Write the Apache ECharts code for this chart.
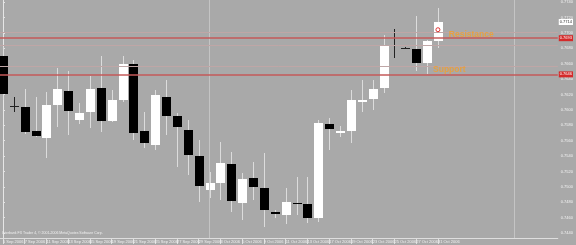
<!DOCTYPE html>
<html><head><meta charset="utf-8">
<script src="https://cdn.jsdelivr.net/npm/echarts@6/dist/echarts.min.js"></script>
<style>html,body{margin:0;padding:0;background:#a9a9a9}#c{width:576px;height:245px}</style>
</head><body><div id="c"></div>
<script>
const dates = ['5 Sep 2006','6 Sep 2006','7 Sep 2006','8 Sep 2006','11 Sep 2006','12 Sep 2006','13 Sep 2006','14 Sep 2006','15 Sep 2006','18 Sep 2006','19 Sep 2006','20 Sep 2006','21 Sep 2006','22 Sep 2006','25 Sep 2006','26 Sep 2006','27 Sep 2006','28 Sep 2006','29 Sep 2006','2 Oct 2006','3 Oct 2006','4 Oct 2006','5 Oct 2006','6 Oct 2006','9 Oct 2006','10 Oct 2006','11 Oct 2006','12 Oct 2006','13 Oct 2006','16 Oct 2006','17 Oct 2006','18 Oct 2006','19 Oct 2006','20 Oct 2006','23 Oct 2006','24 Oct 2006','25 Oct 2006','26 Oct 2006','27 Oct 2006','30 Oct 2006','31 Oct 2006'];
const open  = [0.7670,0.7605,0.7604,0.7572,0.7563,0.7606,0.7624,0.7587,0.7597,0.7628,0.7586,0.7613,0.7660,0.7572,0.7554,0.7617,0.7592,0.7574,0.7540,0.7496,0.7505,0.7530,0.7479,0.7511,0.7498,0.7467,0.7463,0.7479,0.7478,0.7460,0.7582,0.7570,0.7572,0.7610,0.7614,0.7628,0.7684,0.7680,0.7679,0.7661,0.7689];
const close = [0.7620,0.7605,0.7571,0.7566,0.7606,0.7627,0.7598,0.7596,0.7627,0.7586,0.7613,0.7660,0.7570,0.7557,0.7619,0.7592,0.7578,0.7541,0.7501,0.7505,0.7531,0.7482,0.7510,0.7500,0.7470,0.7465,0.7480,0.7478,0.7460,0.7583,0.7575,0.7572,0.7613,0.7613,0.7627,0.7684,0.7684,0.7680,0.7661,0.7689,0.7714];
const low   = [0.7613,0.7597,0.7569,0.7565,0.7537,0.7578,0.7567,0.7582,0.7576,0.7571,0.7584,0.7610,0.7561,0.7550,0.7548,0.7567,0.7526,0.7515,0.7480,0.7485,0.7483,0.7467,0.7457,0.7483,0.7448,0.7460,0.7452,0.7463,0.7453,0.7454,0.7548,0.7565,0.7557,0.7597,0.7600,0.7622,0.7667,0.7679,0.7650,0.7646,0.7680];
const high  = [0.7682,0.7617,0.7627,0.7617,0.7623,0.7654,0.7650,0.7609,0.7644,0.7670,0.7626,0.7670,0.7665,0.7597,0.7626,0.7639,0.7596,0.7587,0.7561,0.7519,0.7558,0.7545,0.7518,0.7532,0.7544,0.7470,0.7498,0.7513,0.7513,0.7587,0.7589,0.7579,0.7626,0.7639,0.7639,0.7697,0.7705,0.7682,0.7722,0.7691,0.7732];
const priceTicks = ['0.7740','0.7720','0.7700','0.7680','0.7660','0.7640','0.7620','0.7600','0.7580','0.7560','0.7540','0.7520','0.7500','0.7480','0.7460','0.7440'];
const dateTickIdx = [0,2,4,6,8,10,12,14,16,18,20,22,24,26,28,30,32,34,36,38,40];
const resistance = 0.7693;
const support = 0.7646;
const guideLevels = [0.7701, 0.7684, 0.7656];
const separators = [19, 47];
const noteTexts = ['Resistance', 'Support'];
const noteAt = [[41.0, 0.7697], [39.55, 0.7652]];
const arrowAt = [40, 0.7704];
const copyright = 'Interbank FX Trader 4, \u00a9 2001-2006 MetaQuotes Software Corp.';

const chart = echarts.init(document.getElementById('c'), null, {renderer: 'canvas'});

function renderItem(params, api) {
  const i = api.value(0), o = api.value(1), c = api.value(2), l = api.value(3), h = api.value(4);
  const pH = api.coord([i, h]), pL = api.coord([i, l]), pO = api.coord([i, o]), pC = api.coord([i, c]);
  const cx = Math.round(pO[0]) + 0.5;
  const hw = 4;
  const doji = o === c;
  const children = [];
  children.push({type: 'line', shape: {x1: cx, y1: Math.round(pH[1]), x2: cx, y2: Math.round(pL[1])},
    style: {stroke: doji ? '#222222' : '#dcdcdc', lineWidth: 1}});
  if (doji) {
    const y = Math.round(pO[1]) + 0.5;
    children.push({type: 'line', shape: {x1: cx - hw - 0.5, y1: y, x2: cx + hw + 0.5, y2: y}, style: {stroke: '#222222', lineWidth: 1}});
  } else {
    const top = Math.round(Math.min(pO[1], pC[1])), bot = Math.round(Math.max(pO[1], pC[1]));
    children.push({type: 'rect', shape: {x: cx - 0.5 - hw, y: top, width: 2 * hw + 1, height: Math.max(1, bot - top)},
      style: {fill: c > o ? '#ffffff' : '#000000'}});
  }
  return {type: 'group', children};
}

const ticksNum = priceTicks.map(Number);
const lineLabel = (bg, fg) => ({show: true, position: 'end', formatter: p => Number(p.value).toFixed(4),
  backgroundColor: bg, color: fg, fontSize: 4, padding: [1, 1, 1, 1], distance: 1, fontFamily: 'Liberation Sans'});

const option = {
  backgroundColor: '#a9a9a9',
  animation: false,
  title: {text: copyright, left: 2, top: 231, padding: 0,
    textStyle: {fontSize: 3.5, color: '#efefef', fontWeight: 'normal', fontFamily: 'Liberation Sans'}},
  grid: {left: 0, right: 13, top: 0, bottom: 7, containLabel: false},
  xAxis: {
    type: 'value', min: -0.273, max: 51.02,
    axisLine: {show: true, onZero: false, lineStyle: {color: '#dedede', width: 1}},
    axisTick: {show: true, customValues: dateTickIdx, length: 6, lineStyle: {color: '#dedede'}},
    axisLabel: {show: true, customValues: dateTickIdx, formatter: v => dates[Math.round(v)] || '',
      align: 'left', fontSize: 4, color: '#f0f0f0', margin: 2, fontFamily: 'Liberation Sans'},
    splitLine: {show: false}
  },
  yAxis: {
    type: 'value', position: 'right', min: 0.743351, max: 0.774260,
    axisLine: {show: true, lineStyle: {color: '#e6e6e6', width: 1}},
    axisTick: {show: true, customValues: ticksNum, length: 2, lineStyle: {color: '#e6e6e6'}},
    axisLabel: {show: true, customValues: ticksNum, formatter: v => Number(v).toFixed(4),
      fontSize: 4, color: '#f2f2f2', margin: 3, fontFamily: 'Liberation Sans'},
    splitLine: {show: false}
  },
  series: [{
    type: 'custom',
    renderItem,
    encode: {x: 0, y: [1, 2, 3, 4]},
    data: dates.map((d, i) => [i, open[i], close[i], low[i], high[i]]),
    clip: true,
    z: 3
  }, {
    type: 'line',
    data: [],
    z: 4,
    markLine: {
      silent: true, symbol: 'none', animation: false, precision: 4,
      data: [
        ...separators.map(s => ({xAxis: s, lineStyle: {color: '#c4c4c4', width: 1, type: 'solid'}, label: {show: false}})),
        ...guideLevels.map(g => ({yAxis: g, lineStyle: {color: '#bfa6a6', width: 1, type: 'solid'}, label: {show: false}})),
        {yAxis: resistance, lineStyle: {color: '#c45a5a', width: 1.6, type: 'solid'}, label: lineLabel('#d42a2a', '#ffffff')},
        {yAxis: support, lineStyle: {color: '#c45a5a', width: 1.6, type: 'solid'}, label: lineLabel('#d42a2a', '#ffffff')},
        {yAxis: close[close.length - 1], lineStyle: {color: 'rgba(0,0,0,0)', width: 0}, label: lineLabel('#ffffff', '#333333')}
      ]
    },
    markPoint: {
      silent: true, animation: false,
      data: [
        ...noteTexts.map((t, k) => ({coord: noteAt[k], symbol: 'circle', symbolSize: 0,
          label: {show: true, position: 'right', distance: 0, formatter: t, color: '#e6a042', fontSize: 8.5,
            fontWeight: 'bold', fontFamily: 'Liberation Sans'}})),
        {coord: arrowAt, symbol: 'circle', symbolSize: 4,
          itemStyle: {color: 'rgba(0,0,0,0)', borderColor: '#e03030', borderWidth: 1}, label: {show: false}}
      ]
    }
  }]
};
chart.setOption(option);
</script></body></html>
